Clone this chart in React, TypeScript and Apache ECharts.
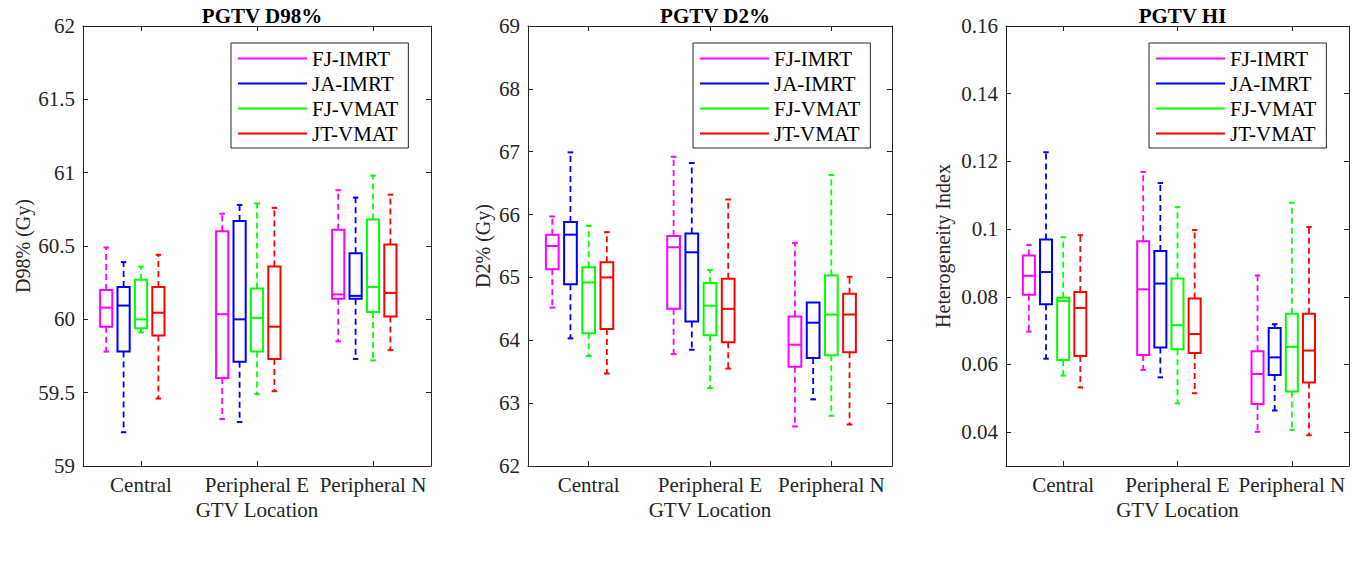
import React, { useEffect, useRef } from 'react';
import * as echarts from 'echarts';

const categories = ['Central', 'Peripheral E', 'Peripheral N'];
const seriesNames = ['FJ-IMRT', 'JA-IMRT', 'FJ-VMAT', 'JT-VMAT'];
const seriesColors = ['#ff00ff', '#0000ff', '#00ff00', '#ff0000'];
const boxOffsets = [-0.3, -0.15, 0, 0.15];

const panelTitles = ['PGTV D98%', 'PGTV D2%', 'PGTV HI'];
const yAxisNames = ['D98% (Gy)', 'D2% (Gy)', 'Heterogeneity Index'];
const xAxisName = 'GTV Location';
const yMins = [59, 62, 0.03];
const yMaxs = [62, 69, 0.16];
const yIntervals: (number | null)[] = [0.5, 1, null];

// each row: [lower whisker, Q1, median, Q3, upper whisker] for Central, Peripheral E, Peripheral N
const d98FJIMRT = [[59.78, 59.95, 60.08, 60.2, 60.49], [59.32, 59.6, 60.035, 60.6, 60.72], [59.85, 60.14, 60.17, 60.61, 60.88]];
const d98JAIMRT = [[59.23, 59.78, 60.094, 60.22, 60.39], [59.3, 59.71, 60.0, 60.67, 60.78], [59.73, 60.14, 60.16, 60.45, 60.83]];
const d98FJVMAT = [[59.91, 59.94, 60.0, 60.27, 60.36], [59.49, 59.78, 60.01, 60.21, 60.79], [59.72, 60.05, 60.22, 60.68, 60.98]];
const d98JTVMAT = [[59.46, 59.89, 60.045, 60.22, 60.44], [59.51, 59.73, 59.95, 60.36, 60.76], [59.79, 60.02, 60.18, 60.51, 60.85]];

const d2FJIMRT = [[64.52, 65.13, 65.5, 65.68, 65.97], [63.78, 64.5, 65.48, 65.66, 66.92], [62.63, 63.58, 63.93, 64.38, 65.55]];
const d2JAIMRT = [[64.03, 64.89, 65.68, 65.88, 66.99], [63.85, 64.3, 65.4, 65.7, 66.82], [63.06, 63.72, 64.28, 64.6, 64.6]];
const d2FJVMAT = [[63.75, 64.11, 64.92, 65.16, 65.82], [63.24, 64.08, 64.55, 64.91, 65.12], [62.8, 63.76, 64.41, 65.03, 66.63]];
const d2JTVMAT = [[63.47, 64.18, 65.0, 65.24, 65.72], [63.55, 63.97, 64.5, 64.98, 66.24], [62.66, 63.81, 64.41, 64.74, 65.01]];

const hiFJIMRT = [[0.0697, 0.0806, 0.0862, 0.0922, 0.0953], [0.0584, 0.0628, 0.0822, 0.0964, 0.1169], [0.0401, 0.0483, 0.0572, 0.0639, 0.0863]];
const hiJAIMRT = [[0.0617, 0.0778, 0.0873, 0.0969, 0.1227], [0.0562, 0.065, 0.0839, 0.0935, 0.1136], [0.0464, 0.0569, 0.0621, 0.0708, 0.0719]];
const hiFJVMAT = [[0.0567, 0.0613, 0.0788, 0.0797, 0.0976], [0.0485, 0.0645, 0.0716, 0.0854, 0.1065], [0.0407, 0.052, 0.0652, 0.075, 0.1078]];
const hiJTVMAT = [[0.0532, 0.0625, 0.0767, 0.0814, 0.0982], [0.0515, 0.0634, 0.069, 0.0795, 0.0997], [0.0391, 0.0547, 0.0641, 0.075, 0.1006]];

const panelData = [
  [d98FJIMRT, d98JAIMRT, d98FJVMAT, d98JTVMAT],
  [d2FJIMRT, d2JAIMRT, d2FJVMAT, d2JTVMAT],
  [hiFJIMRT, hiJAIMRT, hiFJVMAT, hiJTVMAT],
];

const FONT = 'Liberation Serif';
const AXIS_COLOR = '#262626';

const grids = [
  { left: 83, top: 26, width: 348, height: 440 },
  { left: 528, top: 26, width: 364, height: 440 },
  { left: 1006, top: 26, width: 343, height: 440 },
];
const yNameGaps = [50, 35, 53];
const legendLefts = [231, 693, 1149];

function makeRenderItem(offset: number, color: string) {
  return (params: any, api: any) => {
    const cat = api.value(0);
    const lo = api.value(1);
    const q1 = api.value(2);
    const med = api.value(3);
    const q3 = api.value(4);
    const hi = api.value(5);
    const band = api.size([1, 0])[0];
    const cx = api.coord([cat, med])[0] + offset * band;
    const w = band * 0.105;
    const cap = w * 0.45;
    const y = (v: number) => api.coord([cat, v])[1];
    const dashed = { stroke: color, lineWidth: 1.8, lineDash: [6, 4], fill: 'none' };
    const solid = { stroke: color, lineWidth: 2, fill: 'none' };
    const children: any[] = [];
    if (hi > q3) {
      children.push({ type: 'line', shape: { x1: cx, y1: y(q3), x2: cx, y2: y(hi) }, style: dashed });
      children.push({ type: 'line', shape: { x1: cx - cap / 2, y1: y(hi), x2: cx + cap / 2, y2: y(hi) }, style: solid });
    }
    if (lo < q1) {
      children.push({ type: 'line', shape: { x1: cx, y1: y(q1), x2: cx, y2: y(lo) }, style: dashed });
      children.push({ type: 'line', shape: { x1: cx - cap / 2, y1: y(lo), x2: cx + cap / 2, y2: y(lo) }, style: solid });
    }
    children.push({
      type: 'rect',
      shape: { x: cx - w / 2, y: y(q3), width: w, height: y(q1) - y(q3) },
      style: solid,
    });
    children.push({ type: 'line', shape: { x1: cx - w / 2, y1: y(med), x2: cx + w / 2, y2: y(med) }, style: solid });
    return { type: 'group', children };
  };
}

export default function App() {
  const ref = useRef<HTMLDivElement>(null);
  useEffect(() => {
    if (!ref.current) return;
    const chart = echarts.init(ref.current, null, { renderer: 'svg' });

    const xAxes: any[] = [];
    const yAxes: any[] = [];
    const series: any[] = [];
    grids.forEach((g, i) => {
      const tickStyle = { show: true, inside: true, length: 5, lineStyle: { color: AXIS_COLOR, width: 1 } };
      const lineStyle = { show: true, lineStyle: { color: AXIS_COLOR, width: 1 } };
      xAxes.push({
        type: 'category', gridIndex: i, data: categories, position: 'bottom', boundaryGap: true,
        axisLine: lineStyle,
        axisTick: { ...tickStyle, alignWithLabel: true },
        axisLabel: { fontFamily: FONT, fontSize: 21, color: AXIS_COLOR, margin: 8, interval: 0, hideOverlap: false },
        name: xAxisName, nameLocation: 'middle', nameGap: 33,
        nameTextStyle: { fontFamily: FONT, fontSize: 21, color: AXIS_COLOR },
        splitLine: { show: false },
      });
      xAxes.push({
        type: 'category', gridIndex: i, data: categories, position: 'top', boundaryGap: true,
        axisLine: lineStyle,
        axisTick: { ...tickStyle, alignWithLabel: true },
        axisLabel: { show: false },
        splitLine: { show: false },
      });
      const yBase: any = {
        type: 'value', gridIndex: i, min: yMins[i], max: yMaxs[i],
        axisLine: lineStyle, axisTick: tickStyle, splitLine: { show: false },
      };
      if (yIntervals[i] != null) yBase.interval = yIntervals[i];
      else yBase.splitNumber = 6;
      yAxes.push({
        ...yBase, position: 'left',
        axisLabel: { fontFamily: FONT, fontSize: 21, color: AXIS_COLOR, margin: 8, showMinLabel: yIntervals[i] != null },
        name: yAxisNames[i], nameLocation: 'middle', nameGap: yNameGaps[i],
        nameTextStyle: { fontFamily: FONT, fontSize: 20, color: AXIS_COLOR },
      });
      yAxes.push({ ...yBase, position: 'right', axisLabel: { show: false } });

      panelData[i].forEach((rows, s) => {
        series.push({
          type: 'custom',
          name: seriesNames[s],
          xAxisIndex: 2 * i,
          yAxisIndex: 2 * i,
          itemStyle: { color: seriesColors[s] },
          encode: { x: 0, y: [1, 2, 3, 4, 5] },
          data: rows.map((r, c) => [c, ...r]),
          renderItem: makeRenderItem(boxOffsets[s], seriesColors[s]),
          silent: true,
        });
      });
    });

    chart.setOption({
      animation: false,
      backgroundColor: '#ffffff',
      textStyle: { fontFamily: FONT },
      title: grids.map((g, i) => ({
        text: panelTitles[i],
        left: g.left + g.width / 2,
        top: 0,
        textAlign: 'center',
        textStyle: { fontFamily: FONT, fontSize: 21, fontWeight: 'bold', color: '#000' },
      })),
      grid: grids.map((g) => ({ ...g, containLabel: false })),
      legend: grids.map((g, i) => ({
        data: seriesNames.map((n) => ({ name: n, icon: 'path://M0 0 H69 V2 H0 Z' })),
        left: legendLefts[i], top: 43, orient: 'vertical',
        itemWidth: 69, itemHeight: 2, itemGap: 4,
        textStyle: { fontFamily: FONT, fontSize: 21, color: '#000', lineHeight: 21 },
        borderColor: AXIS_COLOR, borderWidth: 1, padding: [5, 10, 4, 7],
        backgroundColor: '#fff', selectedMode: false,
      })),
      xAxis: xAxes,
      yAxis: yAxes,
      series,
    });
    return () => chart.dispose();
  }, []);
  return (
    <div
      ref={ref}
      style={{ position: 'fixed', left: 0, top: 0, width: 1359, height: 575, background: '#fff' }}
    />
  );
}
